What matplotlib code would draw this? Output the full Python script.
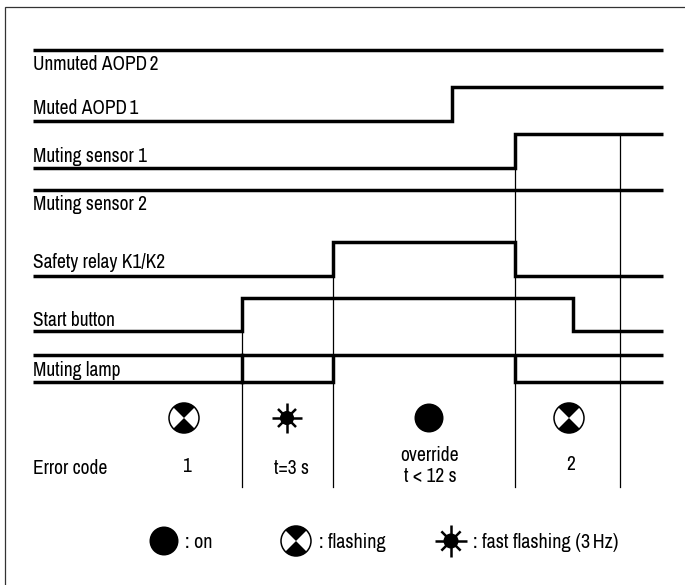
import matplotlib
matplotlib.use("Agg")
import matplotlib.pyplot as plt
import numpy as np
from matplotlib.patches import Circle, Wedge

plt.rcParams['font.family'] = ['Archivo Narrow', 'Roboto Condensed', 'Liberation Sans', 'DejaVu Sans']

W, H = 685, 585
X_START, X_END = 33, 663

signal_names = ["Unmuted AOPD\u20092", "Muted AOPD\u20091", "Muting sensor 1", "Muting sensor 2",
                "Safety relay K1/K2", "Start button"]
signal_high = [50, 87, 134, 190, 242, 298]
signal_low = [50, 121, 168, 190, 276, 331]
signal_initial = [1, 0, 0, 1, 0, 0]
signal_switch = [[], [452], [515], [], [333, 515], [242, 573]]
label_y = [64.5, 108.5, 157, 204.5, 263, 320.5]

lamp_top = 355
lamp_bottom = 382
lamp_switch = [242, 333, 515]
lamp_label_y = 370

guide_x = [242, 333, 515, 620]
guide_top = [331, 276, 134, 134]
guide_bottom = 487

phase_x = [184, 287, 429, 569]
phase_kind = ["flash", "fast", "on", "flash"]
phase_text = ["1", "t=3 s", "override\nt < 12 s", "2"]
phase_text_x = [186, 292, 430, 571]
phase_text_y = [467, 468, 466, 465]
phase_symbol_y = 418

legend_x = [164, 296, 451]
legend_kind = ["on", "flash", "fast"]
legend_text = [": on", ": flashing", ": fast flashing (3\u2009Hz)"]
legend_text_x = [185, 319, 473]
legend_size = [15, 15, 16]
legend_y = 541

FS = 14
LEGEND_FS = 14.5
LW = 2.5
THIN = 0.9

fig = plt.figure(figsize=(W / 100, H / 100), dpi=100)
ax = fig.add_axes([0, 0, 1, 1])
ax.set_xlim(0, W)
ax.set_ylim(H, 0)
ax.axis("off")

ax.plot([5, 5, 685], [H, 7, 7], color="#333333", lw=0.9, solid_joinstyle="miter")

for x, top in zip(guide_x, guide_top):
    ax.plot([x, x], [top, guide_bottom], color="black", lw=THIN)

for name, hi, lo, init, sw, ly in zip(signal_names, signal_high, signal_low,
                                      signal_initial, signal_switch, label_y):
    xs, ys = [X_START], [hi if init else lo]
    state = init
    for s in sw:
        xs += [s, s]
        ys += [hi if state else lo, lo if state else hi]
        state = 1 - state
    xs.append(X_END)
    ys.append(hi if state else lo)
    ax.plot(xs, ys, color="black", lw=LW, solid_joinstyle="miter", solid_capstyle="butt")
    ax.text(X_START, ly, name, fontsize=FS, va="center", ha="left", color="black")

# Muting lamp: two rails that merge while the lamp is steadily on
a, b, c = lamp_switch
ax.plot([X_START, X_END], [lamp_top, lamp_top], color="black", lw=LW, solid_capstyle="butt")
ax.plot([X_START, b, b], [lamp_bottom, lamp_bottom, lamp_top], color="black", lw=LW,
        solid_joinstyle="miter", solid_capstyle="butt")
ax.plot([a, a], [lamp_top, lamp_bottom], color="black", lw=LW)
ax.plot([c, c, X_END], [lamp_top, lamp_bottom, lamp_bottom], color="black", lw=LW,
        solid_joinstyle="miter", solid_capstyle="butt")
ax.text(X_START, lamp_label_y, "Muting lamp", fontsize=FS, va="center", ha="left", color="black")
ax.text(X_START, 468, "Error code", fontsize=FS, va="center", ha="left", color="black")


def symbol(x, y, kind, r):
    if kind == "on":
        ax.add_patch(Circle((x, y), r - 0.5, fc="black", ec="none"))
    elif kind == "flash":
        ax.add_patch(Circle((x, y), r, fc="white", ec="black", lw=1.1))
        ax.add_patch(Wedge((x, y), r, 45, 135, fc="black", ec="none"))
        ax.add_patch(Wedge((x, y), r, 225, 315, fc="black", ec="none"))
    else:
        ax.add_patch(Circle((x, y), r * 0.47, fc="black", ec="none"))
        for ang, k in zip(np.deg2rad([0, 45, 90, 135]), [1, 0.85, 1, 0.85]):
            dx, dy = k * r * np.cos(ang), k * r * np.sin(ang)
            ax.plot([x - dx, x + dx], [y - dy, y + dy], color="black", lw=1.8, solid_capstyle="butt")


for x, k, t, tx, ty in zip(phase_x, phase_kind, phase_text, phase_text_x, phase_text_y):
    symbol(x, phase_symbol_y, k, 15)
    ax.text(tx, ty, t, fontsize=FS, ha="center", va="center", linespacing=1.1, color="black")

for x, k, t, tx, r in zip(legend_x, legend_kind, legend_text, legend_text_x, legend_size):
    symbol(x, legend_y, k, r)
    ax.text(tx, legend_y + 1, t, fontsize=LEGEND_FS, ha="left", va="center", color="black")

fig.savefig("out.png", dpi=100, facecolor="white")
